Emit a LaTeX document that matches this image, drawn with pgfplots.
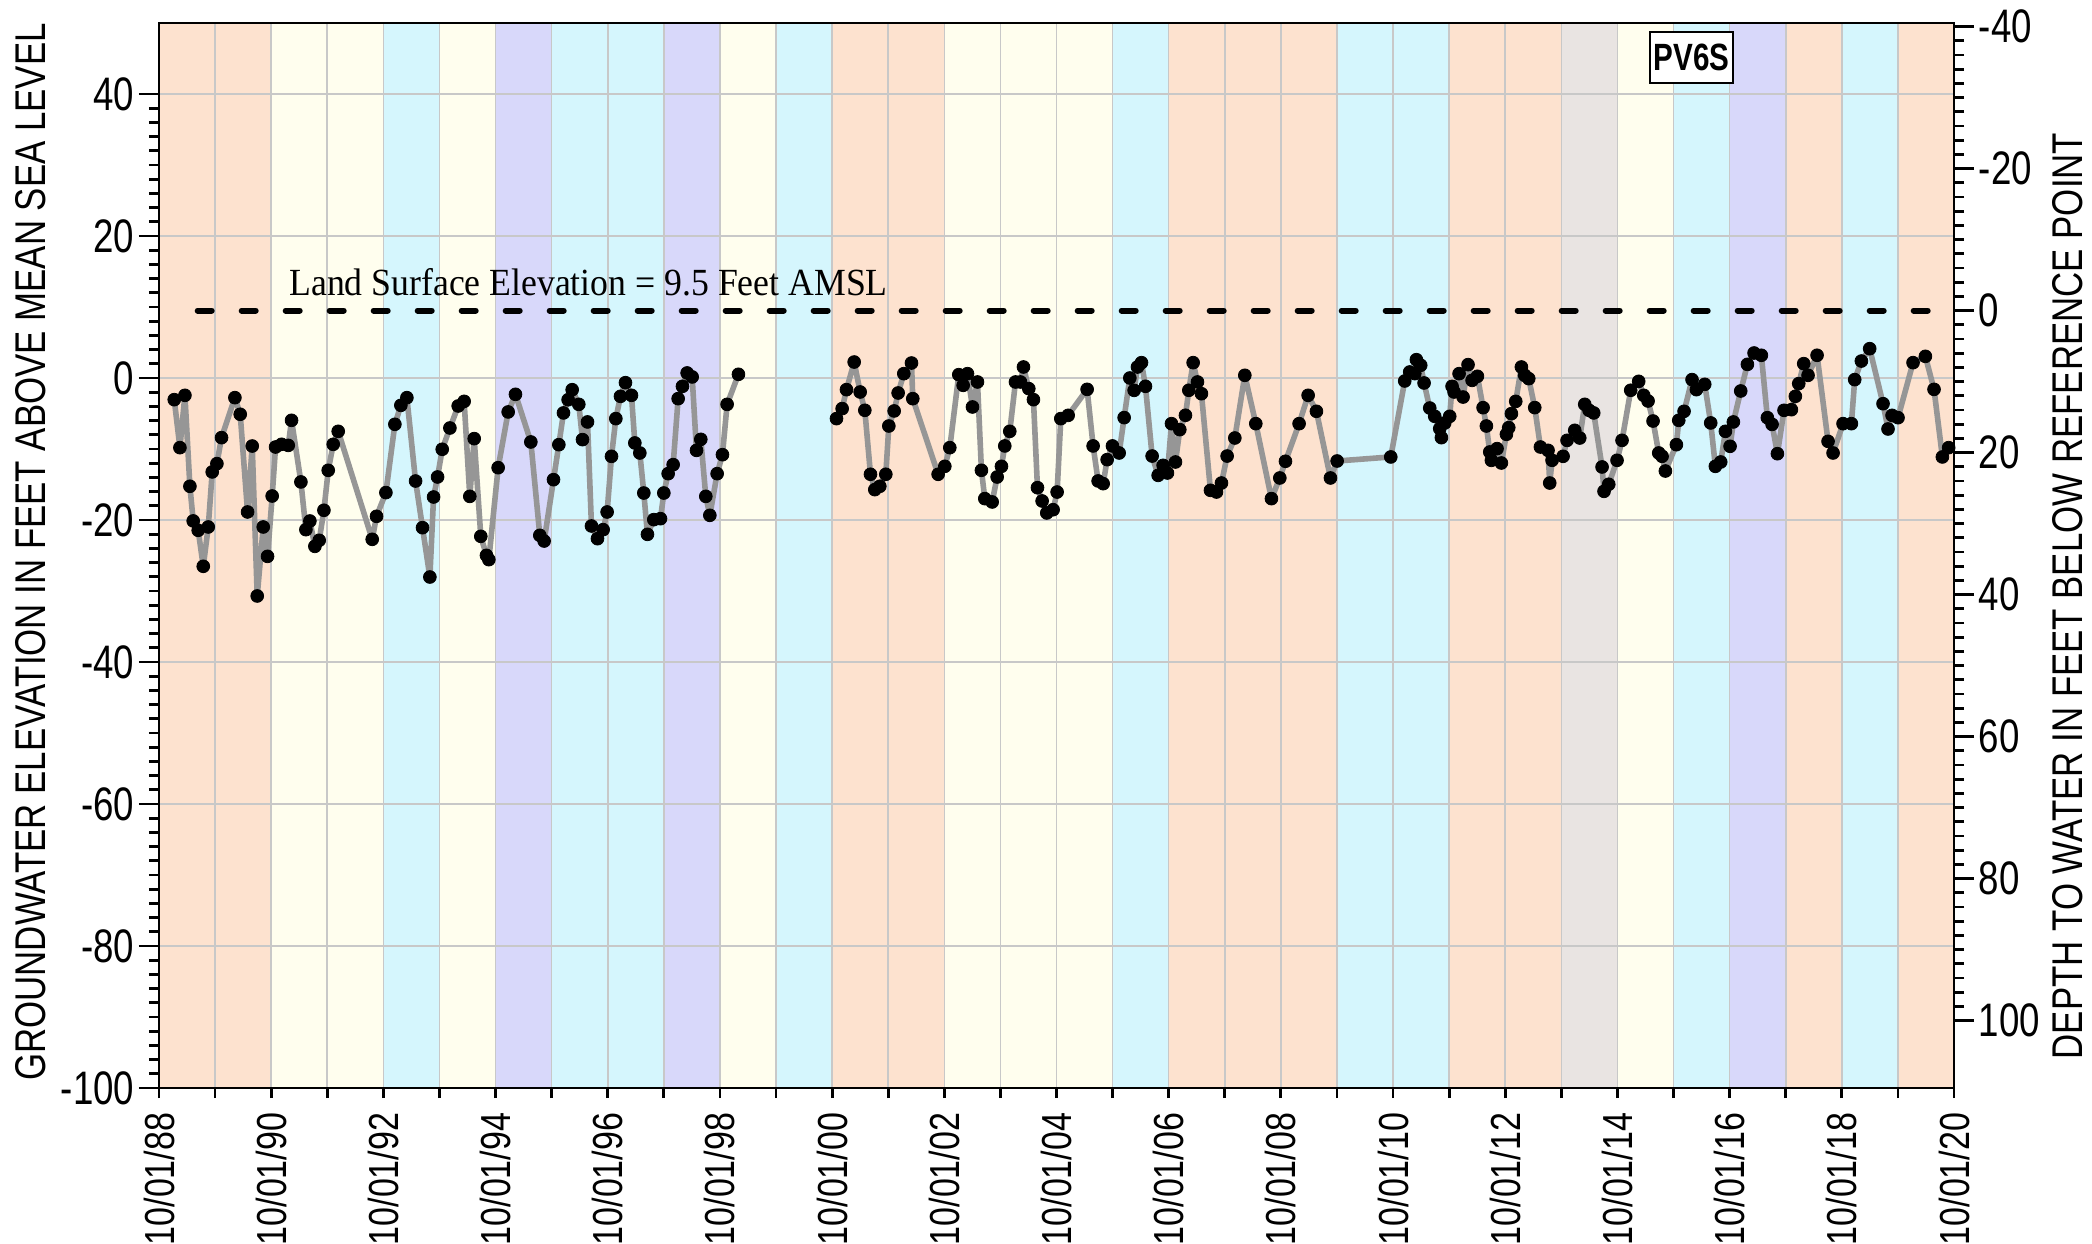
\documentclass[border=0pt]{standalone}
\usepackage{pgfplots}
\pgfplotsset{compat=1.18}
\usepackage{pgfplotstable}
\usepackage{fontspec}
\setmainfont{Liberation Sans}
\newfontfamily\tickfont[FakeStretch=0.78]{Liberation Sans}
\newfontfamily\xtickfont[FakeStretch=0.81]{Liberation Sans}
\newfontfamily\labfont[FakeStretch=0.81]{Liberation Sans}
\newfontfamily\landfont[FakeStretch=0.93]{Liberation Serif}

\definecolor{wpeach}{RGB}{253,226,207}
\definecolor{wyellow}{RGB}{255,254,238}
\definecolor{wcyan}{RGB}{213,246,253}
\definecolor{wlav}{RGB}{216,216,250}
\definecolor{wgrey}{RGB}{233,228,226}
\definecolor{gridgray}{RGB}{200,200,200}
\definecolor{linegray}{RGB}{150,150,150}

% water levels, decimal year / feet AMSL
\pgfplotstableread{
t v
1989.022 -3.05
1989.123 -9.81
1989.212 -2.44
1989.301 -15.25
1989.360 -20.13
1989.449 -21.45
1989.539 -26.52
1989.628 -20.98
1989.699 -13.23
1989.782 -12.06
1989.865 -8.40
1990.103 -2.77
1990.198 -5.11
1990.329 -18.87
1990.412 -9.58
1990.501 -30.70
1990.608 -20.98
1990.685 -25.12
1990.768 -16.62
1990.828 -9.72
1990.935 -9.34
1991.054 -9.49
1991.113 -5.96
1991.280 -14.64
1991.369 -21.36
1991.440 -20.14
1991.529 -23.71
1991.606 -22.86
1991.690 -18.63
1991.767 -13.00
1991.856 -9.34
1991.945 -7.51
1992.551 -22.72
1992.628 -19.48
1992.795 -16.14
1992.955 -6.52
1993.062 -3.85
1993.169 -2.77
1993.324 -14.51
1993.448 -21.08
1993.579 -28.03
1993.645 -16.76
1993.716 -13.94
1993.799 -10.04
1993.936 -7.04
1994.084 -3.94
1994.190 -3.29
1994.291 -16.67
1994.369 -8.54
1994.487 -22.30
1994.588 -24.98
1994.630 -25.58
1994.796 -12.63
1994.975 -4.78
1995.105 -2.30
1995.379 -9.01
1995.539 -22.16
1995.616 -22.96
1995.783 -14.32
1995.878 -9.39
1995.961 -4.92
1996.044 -3.06
1996.116 -1.65
1996.234 -3.71
1996.300 -8.68
1996.389 -6.19
1996.460 -20.84
1996.567 -22.63
1996.668 -21.36
1996.739 -18.87
1996.817 -11.03
1996.894 -5.72
1996.977 -2.58
1997.066 -0.66
1997.173 -2.44
1997.233 -9.15
1997.322 -10.56
1997.393 -16.20
1997.458 -22.02
1997.571 -19.95
1997.690 -19.81
1997.750 -16.20
1997.827 -13.47
1997.916 -12.20
1998.005 -2.91
1998.082 -1.17
1998.165 0.71
1998.255 0.15
1998.332 -10.19
1998.409 -8.64
1998.498 -16.67
1998.570 -19.34
1998.700 -13.47
1998.795 -10.80
1998.878 -3.71
1999.080 0.52
}\wlA

\pgfplotstableread{
t v
2000.828 -5.72
2000.929 -4.31
2001.006 -1.64
2001.143 2.25
2001.250 -1.97
2001.333 -4.55
2001.434 -13.56
2001.511 -15.72
2001.600 -15.25
2001.707 -13.56
2001.761 -6.76
2001.856 -4.64
2001.927 -2.11
2002.028 0.61
2002.165 2.11
2002.188 -2.91
2002.640 -13.56
2002.759 -12.44
2002.848 -9.81
2003.008 0.47
2003.086 -1.03
2003.163 0.61
2003.252 -4.08
2003.341 -0.56
2003.412 -13.00
2003.472 -16.99
2003.603 -17.46
2003.692 -13.94
2003.769 -12.44
2003.828 -9.57
2003.917 -7.51
2004.019 -0.56
2004.108 -0.56
2004.161 1.55
2004.256 -1.50
2004.339 -3.05
2004.411 -15.45
2004.494 -17.32
2004.577 -19.01
2004.690 -18.55
2004.761 -16.06
2004.827 -5.72
2004.958 -5.26
2005.296 -1.60
2005.403 -9.57
2005.492 -14.50
2005.582 -14.88
2005.653 -11.50
2005.748 -9.57
2005.867 -10.56
2005.956 -5.58
2006.057 0.00
2006.134 -1.74
2006.194 1.55
2006.265 2.16
2006.336 -1.17
2006.455 -10.99
2006.562 -13.71
2006.651 -12.30
2006.728 -13.38
2006.800 -6.43
2006.871 -11.83
2006.948 -7.27
2007.049 -5.25
2007.109 -1.73
2007.186 2.16
2007.263 -0.56
2007.334 -2.21
2007.495 -15.82
2007.602 -16.06
2007.691 -14.79
2007.792 -10.99
2007.929 -8.45
2008.107 0.38
2008.303 -6.43
2008.582 -16.99
2008.731 -14.08
2008.832 -11.73
2009.075 -6.43
2009.236 -2.44
2009.384 -4.69
2009.634 -14.08
2009.753 -11.69
2010.709 -11.12
2010.958 -0.42
2011.047 0.85
2011.137 0.62
2011.166 2.58
2011.243 1.79
2011.303 -0.70
2011.404 -4.23
2011.493 -5.40
2011.582 -7.13
2011.612 -8.40
2011.671 -6.34
2011.760 -5.40
2011.802 -1.17
2011.838 -1.97
2011.927 0.61
2011.998 -2.68
2012.087 1.88
2012.159 -0.33
2012.254 0.24
2012.355 -4.18
2012.414 -6.76
2012.474 -10.42
2012.503 -11.60
2012.604 -9.95
2012.681 -11.97
2012.771 -7.93
2012.812 -6.99
2012.860 -5.02
2012.937 -3.29
2013.038 1.55
2013.097 0.38
2013.169 -0.09
2013.276 -4.17
2013.377 -9.72
2013.513 -10.19
2013.543 -14.79
2013.585 -11.59
2013.781 -11.03
2013.852 -8.78
2013.989 -7.37
2014.078 -8.45
2014.167 -3.71
2014.244 -4.55
2014.327 -4.92
2014.476 -12.53
2014.511 -15.96
2014.595 -14.97
2014.743 -11.59
2014.832 -8.78
2014.987 -1.73
2015.129 -0.47
2015.219 -2.44
2015.296 -3.24
2015.385 -6.06
2015.486 -10.56
2015.546 -11.03
2015.605 -13.10
2015.801 -9.39
2015.843 -5.96
2015.938 -4.69
2016.080 -0.23
2016.158 -1.64
2016.306 -0.89
2016.413 -6.33
2016.496 -12.44
2016.591 -11.83
2016.675 -7.51
2016.758 -9.62
2016.817 -6.19
2016.948 -1.83
2017.067 1.92
2017.186 3.52
2017.316 3.20
2017.423 -5.59
2017.507 -6.53
2017.602 -10.66
2017.720 -4.55
2017.851 -4.46
2017.922 -2.58
2017.982 -0.79
2018.071 2.02
2018.148 0.38
2018.309 3.20
2018.505 -8.92
2018.594 -10.56
2018.772 -6.43
2018.921 -6.43
2018.980 -0.23
2019.099 2.39
2019.247 4.13
2019.485 -3.62
2019.574 -7.18
2019.646 -5.26
2019.752 -5.59
2020.020 2.16
2020.240 3.05
2020.394 -1.60
2020.543 -11.12
2020.655 -9.81
}\wlB

% one coloured water-year band
\newcommand{\band}[3]{\addplot[draw=none, fill=#3] coordinates {(#1,-100) (#1,50) (#2,50) (#2,-100)};}

\begin{document}
\begin{tikzpicture}
\pgfplotsset{
  chartbox/.style={scale only axis, width=448.75pt, height=266.25pt,
    at={(0,0)}, anchor=south west, xmin=1988.75, xmax=2020.75},
  tickfnt/.style={font=\tickfont\fontsize{11.75pt}{12pt}\selectfont},
  wl/.style={linegray, line width=1.4pt, line join=round, mark=*, mark size=1.6pt,
    mark options={fill=black, draw=black, line width=0.2pt}},
}

% background bands
\begin{axis}[chartbox, ymin=-100, ymax=50, hide axis]
\band{1988.75}{1990.75}{wpeach}
\band{1990.75}{1992.75}{wyellow}
\band{1992.75}{1993.75}{wcyan}
\band{1993.75}{1994.75}{wyellow}
\band{1994.75}{1995.75}{wlav}
\band{1995.75}{1997.75}{wcyan}
\band{1997.75}{1998.75}{wlav}
\band{1998.75}{1999.75}{wyellow}
\band{1999.75}{2000.75}{wcyan}
\band{2000.75}{2002.75}{wpeach}
\band{2002.75}{2005.75}{wyellow}
\band{2005.75}{2006.75}{wcyan}
\band{2006.75}{2009.75}{wpeach}
\band{2009.75}{2011.75}{wcyan}
\band{2011.75}{2013.75}{wpeach}
\band{2013.75}{2014.75}{wgrey}
\band{2014.75}{2015.75}{wyellow}
\band{2015.75}{2016.75}{wcyan}
\band{2016.75}{2017.75}{wlav}
\band{2017.75}{2018.75}{wpeach}
\band{2018.75}{2019.75}{wcyan}
\band{2019.75}{2020.75}{wpeach}
\end{axis}

% main axis
\begin{axis}[chartbox, ymin=-100, ymax=50,
  axis line style={line width=0.7pt},
  tick align=outside, tick pos=left,
  major tick length=5pt, minor tick length=2.5pt,
  tick style={black, line width=0.7pt},
  ytick={-100,-80,-60,-40,-20,0,20,40},
  yticklabels={-100,-80,-60,-40,-20,0,20,40},
  minor y tick num=9,
  xtick={1988.75,1990.75,1992.75,1994.75,1996.75,1998.75,2000.75,2002.75,
    2004.75,2006.75,2008.75,2010.75,2012.75,2014.75,2016.75,2018.75,2020.75},
  xticklabels={10/01/88,10/01/90,10/01/92,10/01/94,10/01/96,10/01/98,
    10/01/00,10/01/02,10/01/04,10/01/06,10/01/08,10/01/10,10/01/12,
    10/01/14,10/01/16,10/01/18,10/01/20},
  minor xtick={1988.75,1989.75,1990.75,1991.75,1992.75,1993.75,1994.75,
    1995.75,1996.75,1997.75,1998.75,1999.75,2000.75,2001.75,2002.75,
    2003.75,2004.75,2005.75,2006.75,2007.75,2008.75,2009.75,2010.75,
    2011.75,2012.75,2013.75,2014.75,2015.75,2016.75,2017.75,2018.75,
    2019.75,2020.75},
  major x tick style={draw=none},
  xminorgrids, ymajorgrids,
  grid style={gridgray, line width=0.4pt},
  minor grid style={gridgray, line width=0.4pt},
  tick label style={tickfnt},
  x tick label style={rotate=90, anchor=east, inner sep=1pt,
    font=\xtickfont\fontsize{10.5pt}{11pt}\selectfont},
  y tick label style={inner sep=1pt},
]
\addplot[black, line width=1.5pt, line cap=round, dash pattern=on 3.5pt off 7.5pt]
  coordinates {(1989.44,9.5) (2020.46,9.5)};
\addplot[wl] table[x=t, y=v] {\wlA};
\addplot[wl] table[x=t, y=v] {\wlB};
\node[anchor=base west, inner sep=0pt, font=\landfont\fontsize{9.6pt}{10pt}\selectfont]
  at (axis cs:1991.06,11.65) {Land Surface Elevation = 9.5 Feet AMSL};
\node[draw=black, line width=0.5pt, fill=white, inner xsep=1pt, inner ysep=3pt,
  font=\tickfont\bfseries\fontsize{9.5pt}{10pt}\selectfont]
  at (axis cs:2016.07,45.1) {PV6S};
\end{axis}

% right axis: depth below reference point
\begin{axis}[chartbox, ymin=-40.5, ymax=109.5, y dir=reverse,
  axis x line=none, axis y line*=right,
  axis line style={line width=0.7pt},
  tick align=outside,
  major tick length=5pt, minor tick length=2.5pt,
  tick style={black, line width=0.7pt},
  ytick={-40,-20,0,20,40,60,80,100},
  yticklabels={-40,-20,0,20,40,60,80,100},
  minor y tick num=9,
  tick label style={tickfnt},
  y tick label style={inner sep=1pt},
]
\end{axis}

\node[rotate=90, font=\labfont\fontsize{10.75pt}{12pt}\selectfont]
  at (-32pt,134pt) {GROUNDWATER ELEVATION IN FEET ABOVE MEAN SEA LEVEL};
\node[rotate=90, font=\labfont\fontsize{10.75pt}{12pt}\selectfont]
  at (477.25pt,123pt) {DEPTH TO WATER IN FEET BELOW REFERENCE POINT};

\pgfresetboundingbox
\path (-39.75pt,-39pt) rectangle (483.25pt,272pt);
\end{tikzpicture}
\end{document}
